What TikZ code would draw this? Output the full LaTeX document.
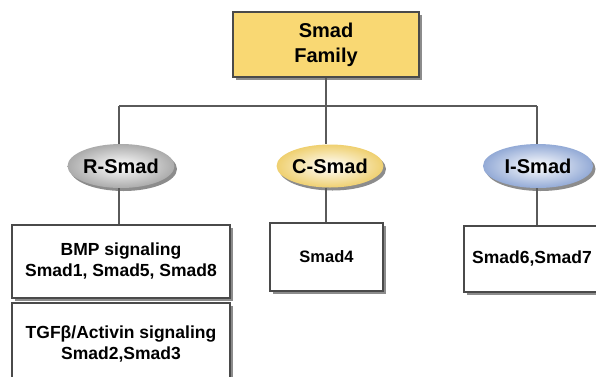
\documentclass[tikz,border=0pt]{standalone}
\usepackage{fontspec}
\setmainfont{Liberation Sans}
\usetikzlibrary{shapes.geometric,shadows}
\definecolor{famyellow}{HTML}{F9D873}
\definecolor{edgegray}{HTML}{4A4A4A}
\definecolor{linegray}{HTML}{5A5A5A}
\definecolor{rout}{HTML}{ABABAB}
\definecolor{cout}{HTML}{EFD070}
\definecolor{iout}{HTML}{93AAD6}
\tikzset{
  shad/.style={drop shadow={shadow xshift=2.5pt,shadow yshift=-3pt,opacity=0.45,fill=black}},
  famstyle/.style={draw=edgegray,line width=1.6pt,fill=famyellow,shad,minimum width=186pt,minimum height=65pt,align=center,font=\bfseries\fontsize{20}{25}\selectfont},
  typestyle/.style={ellipse,draw=none,shad,inner sep=0pt,font=\bfseries\fontsize{20}{22}\selectfont},
  memberbox/.style={draw=edgegray,line width=1.6pt,fill=white,shad,align=center,inner sep=0pt,font=\bfseries\fontsize{17.5}{21}\selectfont},
  conn/.style={draw=linegray,line width=1.6pt}
}
\begin{document}
\begin{tikzpicture}[x=1pt,y=-1pt]
\useasboundingbox (0,0) rectangle (596,376);
\fill[white] (0,0) rectangle (596,376);
\coordinate (hl) at (119,106);
\coordinate (hm) at (326,106);
\coordinate (hr) at (537,106);
\node[famstyle] (fam) at (326,44.5) {Smad\\Family};
\draw[conn] (fam.south) -- (hm);
\draw[conn] (hl) -- (hr);
\node[typestyle,minimum width=106pt,minimum height=44pt,inner color=white,outer color=rout] (rs) at (121,166) {R-Smad};
\node[typestyle,minimum width=102pt,minimum height=43pt,inner color=white,outer color=cout] (cs) at (330,166) {C-Smad};
\node[typestyle,minimum width=110pt,minimum height=44pt,inner color=white,outer color=iout] (is) at (538,166) {I-Smad};
\draw[conn] (hl) -- (hl |- rs.north);
\draw[conn] (hm) -- (hm |- cs.north);
\draw[conn] (hr) -- (hr |- is.north);
\node[memberbox,minimum width=218pt,minimum height=73pt] (bmp) at (121,261.5) {BMP signaling\\Smad1, Smad5, Smad8};
\node[memberbox,minimum width=218pt,minimum height=82pt] (tgf) at (121,344) {TGFβ/Activin signaling\\Smad2,Smad3};
\node[memberbox,minimum width=113pt,minimum height=68pt,font=\bfseries\fontsize{16.5}{20}\selectfont] (s4) at (326.5,257) {Smad4};
\node[memberbox,minimum width=136pt,minimum height=66pt] (s67) at (532,259) {Smad6,Smad7};
\draw[conn] (hl |- rs.south) -- (hl |- bmp.north);
\draw[conn] (hm |- cs.south) -- (hm |- s4.north);
\draw[conn] (hr |- is.south) -- (hr |- s67.north);
\end{tikzpicture}
\end{document}
